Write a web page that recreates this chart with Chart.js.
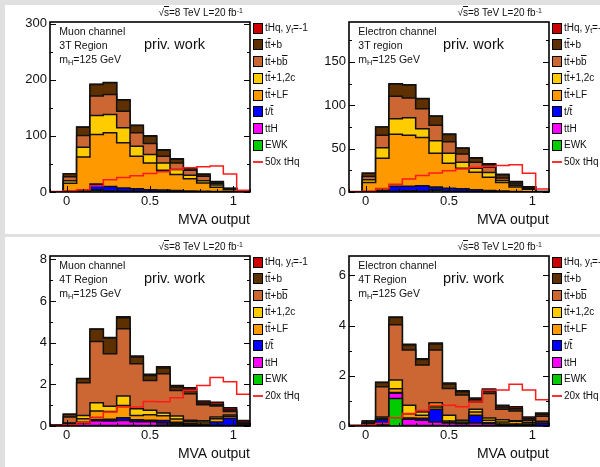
<!DOCTYPE html>
<html>
<head>
<meta charset="utf-8">
<script src="https://cdn.jsdelivr.net/npm/chart.js@4.4.0/dist/chart.umd.min.js"></script>
<style>
  body { margin: 0; width: 600px; height: 467px; background: #e0e0e0; position: relative; overflow: hidden;
         font-family: "Liberation Sans", Arial, sans-serif; }
  .sheet { position: absolute; background: #fff; }
  .panel { position: absolute; width: 300px; height: 233px; }
  .panel canvas { position: absolute; left: 0; top: 0; }
  .txt { position: absolute; white-space: nowrap; color: #111; line-height: 1; }
  .o { text-decoration: overline; }
  .sub { font-size: 70%; position: relative; top: 0.3em; }
  .sup { font-size: 70%; position: relative; top: -0.45em; }
  .box { position: absolute; width: 8px; height: 9px; border: 1px solid #000; }
  .lline { position: absolute; width: 10px; height: 2px; background: #ff3030; }
</style>
</head>
<body>
<div class="sheet" style="left:5px;top:5px;width:294px;height:229px"></div>
<div class="sheet" style="left:299px;top:5px;width:301px;height:229px"></div>
<div class="sheet" style="left:5px;top:237px;width:294px;height:230px"></div>
<div class="sheet" style="left:299px;top:237px;width:301px;height:230px"></div>

<script>
// =====================================================
// BINNING AND AXES
// =====================================================
const binEdges = [-0.1, -0.02, 0.06, 0.14, 0.22, 0.30, 0.38, 0.46, 0.54, 0.62, 0.70, 0.78, 0.86, 0.94, 1.02, 1.1];
const xTicks = [0, 0.5, 1];
const xTickLabels = ["0", "0.5", "1"];

// stack order from bottom to top
const compColors = ["#00cc00", "#ff00ff", "#0000ff", "#ff9900", "#ffcc00", "#cc6633", "#5e3000", "#cc0000"];

// =====================================================
// MUON CHANNEL, 3T REGION
// =====================================================
const mu3T_EWK = [0, 0.3, 0.5, 3, 1.5, 1, 1, 0.5, 0.5, 0.3, 0.2, 0.2, 0.1, 0, 0];
const mu3T_ttH = [0, 0.2, 0.3, 0.5, 0.5, 0.5, 0.5, 0.5, 0.3, 0.2, 0.2, 0.1, 0.1, 0.1, 0];
const mu3T_t   = [0, 0.8, 1.5, 10.8, 8, 5.5, 4.5, 3, 2.7, 2, 1.5, 1, 0.6, 0.4, 0];
const mu3T_LF  = [0.3, 14.2, 60.2, 88.2, 95.4, 80.6, 57.7, 47.8, 35.2, 28.5, 21.9, 14.7, 7.5, 3.5, 0.2];
const mu3T_cc  = [0, 4.7, 17.3, 33.9, 32.8, 26.8, 17.9, 14.9, 13.1, 9, 6, 4, 4.2, 1, 0.1];
const mu3T_bb  = [0, 7.2, 20.9, 34.6, 35.8, 29.6, 23.8, 19.7, 11.9, 11.8, 8.9, 8, 3, 0.5, 0.1];
const mu3T_b   = [0.2, 5.3, 14.9, 20.8, 20.8, 19.8, 13.1, 13.1, 10.8, 6.6, 3.3, 3, 2.5, 0.7, 0.2];
const mu3T_tHq = [0.02, 0.04, 0.08, 0.22, 0.44, 0.52, 0.58, 0.66, 0.72, 0.8, 0.86, 0.9, 0.93, 0.64, 0.06];
const mu3T_sig = [1, 2, 4, 11, 22, 26, 29, 33, 36, 40, 43, 45, 46.5, 32, 3];
const mu3T_yTicks = [0, 100, 200, 300];

// =====================================================
// ELECTRON CHANNEL, 3T REGION
// =====================================================
const el3T_EWK = [0, 0.1, 0.2, 0.3, 0.3, 0.5, 2, 0.5, 0.3, 0.2, 0.1, 0.1, 0, 0, 0];
const el3T_ttH = [0, 0.1, 0.3, 0.5, 1, 0.5, 0.5, 0.5, 0.5, 0.3, 0.2, 0.1, 0.1, 0, 0];
const el3T_t   = [0, 0.5, 1.5, 5.7, 5.2, 6.2, 3.2, 3.2, 3, 2.2, 1.5, 1, 0.5, 0.3, 0];
const el3T_LF  = [0.2, 10.3, 36.8, 60.1, 59, 55.6, 38.9, 28.9, 23.6, 20.1, 15.3, 9.8, 5.1, 3, 0.2];
const el3T_cc  = [0, 3.1, 12.2, 17.9, 20.2, 10.2, 14.4, 11.5, 6.9, 4.6, 5.4, 2.3, 1.9, 0.8, 0.1];
const el3T_bb  = [0, 3.8, 14.5, 25.9, 22.8, 23, 18, 13.3, 9.5, 6.9, 6.1, 2.7, 1.5, 0.8, 0.1];
const el3T_b   = [0.1, 3.8, 9.5, 14.1, 14.9, 11.4, 10.2, 8.4, 6.5, 4.5, 3.4, 3.8, 2.3, 0.8, 0.1];
const el3T_tHq = [0.01, 0.02, 0.08, 0.18, 0.3, 0.38, 0.44, 0.49, 0.53, 0.57, 0.59, 0.61, 0.63, 0.43, 0.07];
const el3T_sig = [0.5, 0.8, 4, 9, 15, 19, 22, 24.5, 26.5, 28.5, 29.5, 30.5, 31.5, 21.7, 3.4];
const el3T_yTicks = [0, 50, 100, 150];

// =====================================================
// MUON CHANNEL, 4T REGION
// =====================================================
const mu4T_EWK = [0, 0, 0.02, 0.02, 0.02, 0.02, 0.02, 0.03, 0.05, 0.06, 0.02, 0.01, 0, 0, 0];
const mu4T_ttH = [0, 0.05, 0.12, 0.23, 0.22, 0.25, 0.18, 0.17, 0.1, 0.06, 0.05, 0.05, 0.04, 0.02, 0];
const mu4T_t   = [0, 0.02, 0.04, 0.06, 0.08, 0.13, 0.1, 0.08, 0.12, 0.06, 0.05, 0.04, 0.15, 0.35, 0.05];
const mu4T_LF  = [0.02, 0.05, 0.17, 0.41, 0.38, 0.59, 0.2, 0.26, 0.22, 0.16, 0.08, 0.09, 0.16, 0.1, 0.04];
const mu4T_cc  = [0, 0.03, 0.15, 0.4, 0.25, 0.45, 0.33, 0.22, 0.14, 0.14, 0.08, 0.06, 0.08, 0.06, 0.02];
const mu4T_bb  = [0.01, 0.28, 1.58, 2.94, 2.52, 3.23, 2.16, 1.43, 1.88, 1.23, 1.27, 0.77, 0.53, 0.17, 0.02];
const mu4T_b   = [0.02, 0.13, 0.19, 0.58, 0.75, 0.53, 0.32, 0.24, 0.27, 0.16, 0.2, 0.08, 0.06, 0.07, 0.05];
const mu4T_tHq = [0, 0, 0.01, 0.02, 0.03, 0.05, 0.05, 0.06, 0.06, 0.07, 0.09, 0.1, 0.12, 0.11, 0.08];
const mu4T_sig = [0.02, 0.05, 0.16, 0.42, 0.67, 0.91, 0.91, 1.18, 1.16, 1.36, 1.72, 1.94, 2.33, 2.12, 1.53];
const mu4T_yTicks = [0, 2, 4, 6, 8];

// =====================================================
// ELECTRON CHANNEL, 4T REGION
// =====================================================
const el4T_EWK = [0, 0, 0.02, 1.1, 0.02, 0.02, 0.02, 0.02, 0.01, 0.02, 0.01, 0, 0, 0, 0];
const el4T_ttH = [0, 0.02, 0.05, 0.2, 0.25, 0.21, 0.14, 0.1, 0.08, 0.1, 0.08, 0.05, 0.04, 0.02, 0.02];
const el4T_t   = [0, 0.02, 0.18, 0.03, 0.05, 0.08, 0.51, 0.03, 0.03, 0.31, 0.04, 0.03, 0.04, 0.04, 0.1];
const el4T_LF  = [0.01, 0.03, 0.06, 0.15, 0.17, 0.12, 0.09, 0.05, 0.04, 0.13, 0.1, 0.08, 0.11, 0.06, 0.05];
const el4T_cc  = [0, 0.02, 0.05, 0.35, 0.34, 0.13, 0.17, 0.23, 0.07, 0.11, 0.09, 0.09, 0.02, 0.02, 0.02];
const el4T_bb  = [0, 0.04, 1.2, 2.2, 2.2, 1.87, 2.1, 1.06, 1.0, 0.29, 0.97, 0.42, 0.39, 0.09, 0.2];
const el4T_b   = [0.01, 0.07, 0.17, 0.29, 0.2, 0.22, 0.24, 0.18, 0.13, 0.11, 0.11, 0.09, 0.09, 0.06, 0.08];
const el4T_tHq = [0, 0, 0.01, 0.02, 0.03, 0.03, 0.04, 0.04, 0.04, 0.05, 0.07, 0.07, 0.08, 0.07, 0.05];
const el4T_sig = [0.02, 0.04, 0.1, 0.33, 0.5, 0.62, 0.83, 0.83, 0.77, 0.96, 1.42, 1.43, 1.66, 1.43, 1.05];
const el4T_yTicks = [0, 2, 4, 6];

// =====================================================
// LEGEND
// =====================================================
const legendLabels = [
  "tHq, y<span class='sub'>t</span>=-1",
  "t<span class='o'>t</span>+b",
  "t<span class='o'>t</span>+b<span class='o'>b</span>",
  "t<span class='o'>t</span>+1,2c",
  "t<span class='o'>t</span>+LF",
  "t/<span class='o'>t</span>",
  "ttH",
  "EWK"
];
const legendColors = ["#cc0000", "#5e3000", "#cc6633", "#ffcc00", "#ff9900", "#0000ff", "#ff00ff", "#00cc00"];

// =====================================================
// PANELS
// =====================================================
const panels = [
  { left: 0, top: 0, channel: "Muon channel", region: "3T Region", yMax: 303, yTicks: mu3T_yTicks, sigLabel: "50x tHq",
    stack: [mu3T_EWK, mu3T_ttH, mu3T_t, mu3T_LF, mu3T_cc, mu3T_bb, mu3T_b, mu3T_tHq], sig: mu3T_sig },
  { left: 299, top: 0, channel: "Electron channel", region: "3T region", yMax: 196, yTicks: el3T_yTicks, sigLabel: "50x tHq",
    stack: [el3T_EWK, el3T_ttH, el3T_t, el3T_LF, el3T_cc, el3T_bb, el3T_b, el3T_tHq], sig: el3T_sig },
  { left: 0, top: 234, channel: "Muon channel", region: "4T Region", yMax: 8.16, yTicks: mu4T_yTicks, sigLabel: "20x tHq",
    stack: [mu4T_EWK, mu4T_ttH, mu4T_t, mu4T_LF, mu4T_cc, mu4T_bb, mu4T_b, mu4T_tHq], sig: mu4T_sig },
  { left: 299, top: 234, channel: "Electron channel", region: "4T Region", yMax: 6.77, yTicks: el4T_yTicks, sigLabel: "20x tHq",
    stack: [el4T_EWK, el4T_ttH, el4T_t, el4T_LF, el4T_cc, el4T_bb, el4T_b, el4T_tHq], sig: el4T_sig }
];

// step points: one per low edge plus the last upper edge
function stepPoints(values) {
  return binEdges.map((x, i) => ({ x: x, y: values[Math.min(i, values.length - 1)] }));
}

// frame and inward ticks, ROOT style
const rootFrame = {
  id: "rootFrame",
  afterDraw(chart, args, opts) {
    const { ctx, chartArea: a, scales: { x, y } } = chart;
    const seg = (x1, y1, x2, y2) => { ctx.beginPath(); ctx.moveTo(x1, y1); ctx.lineTo(x2, y2); ctx.stroke(); };
    ctx.save();
    ctx.strokeStyle = "#000";
    ctx.lineWidth = 1;

    const step = opts.yTicks[1] - opts.yTicks[0];
    for (let v = 0; v <= y.max + 1e-9; v += step / 2) {
      const py = Math.round(y.getPixelForValue(v)) + 0.5;
      const major = opts.yTicks.some(t => Math.abs(t - v) < 1e-9);
      const len = major ? 6 : 3;
      seg(a.left, py, a.left + len, py);
      seg(a.right, py, a.right - len, py);
    }
    for (let i = 0; i <= 12; i++) {
      const v = -0.1 + i * 0.1;
      const px = Math.round(x.getPixelForValue(v)) + 0.5;
      const major = xTicks.some(t => Math.abs(t - v) < 1e-9);
      seg(px, a.bottom, px, a.bottom - (major ? 6 : 3));
    }

    ctx.lineWidth = 1.6;
    ctx.strokeRect(a.left, a.top, a.right - a.left, a.bottom - a.top);
    ctx.restore();
  }
};

function addText(parent, html, left, baseline, size) {
  const d = document.createElement("div");
  d.className = "txt";
  d.style.left = left + "px";
  d.style.top = (baseline - 0.8465 * size) + "px";
  d.style.fontSize = size + "px";
  d.innerHTML = html;
  parent.appendChild(d);
}

panels.forEach(p => {
  const div = document.createElement("div");
  div.className = "panel";
  div.style.left = p.left + "px";
  div.style.top = p.top + "px";
  document.body.appendChild(div);

  const canvas = document.createElement("canvas");
  canvas.width = 300;
  canvas.height = 233;
  div.appendChild(canvas);

  const datasets = p.stack.map((vals, i) => ({
    data: stepPoints(vals),
    backgroundColor: compColors[i],
    borderColor: "#111",
    borderWidth: 1.5,
    fill: i === 0 ? "origin" : "-1",
    stepped: "before",
    pointRadius: 0,
    order: 0
  }));
  datasets.push({
    data: stepPoints(p.sig),
    borderColor: "#ff1a1a",
    borderWidth: 1.5,
    fill: false,
    stepped: "before",
    pointRadius: 0,
    stack: "signal",
    order: -1
  });

  new Chart(canvas, {
    type: "line",
    data: { datasets: datasets },
    options: {
      responsive: false,
      animation: false,
      devicePixelRatio: 1,
      events: [],
      layout: { padding: { left: 0, right: 50, top: 22, bottom: 0 } },
      plugins: {
        legend: { display: false },
        tooltip: { enabled: false },
        rootFrame: { yTicks: p.yTicks }
      },
      scales: {
        x: {
          type: "linear",
          min: -0.1,
          max: 1.1,
          grid: { display: false, drawTicks: false },
          border: { display: false },
          afterBuildTicks: s => { s.ticks = xTicks.map(v => ({ value: v })); },
          afterFit: s => { s.height = 41; },
          ticks: {
            padding: 2,
            autoSkip: false,
            maxRotation: 0,
            color: "#111",
            font: { family: "Liberation Sans", size: 13 },
            callback: (v, i) => xTickLabels[i]
          },
          title: {
            display: true,
            text: "MVA output",
            align: "end",
            color: "#111",
            font: { family: "Liberation Sans", size: 14 },
            padding: { top: 0, bottom: 4 }
          }
        },
        y: {
          stacked: true,
          min: 0,
          max: p.yMax,
          grid: { display: false, drawTicks: false },
          border: { display: false },
          afterBuildTicks: s => { s.ticks = p.yTicks.map(v => ({ value: v })); },
          afterFit: s => { s.width = 50; },
          ticks: {
            padding: 3,
            color: "#111",
            font: { family: "Liberation Sans", size: 13 },
            callback: v => String(v)
          }
        }
      }
    },
    plugins: [rootFrame]
  });

  // texts
  addText(div, "√<span class='o'>s</span>=8 TeV L=20 fb<span class='sup'>-1</span>", 158.5, 16.7, 10);
  addText(div, p.channel, 59.3, 35.3, 10.5);
  addText(div, p.region, 59.3, 49, 10.5);
  addText(div, "m<span class='sub'>H</span>=125 GeV", 59.3, 62.7, 10.5);
  addText(div, "priv. work", 144, 49, 14.5);

  // legend
  legendLabels.forEach((lab, k) => {
    const cy = 28 + k * 16.75;
    const b = document.createElement("div");
    b.className = "box";
    b.style.left = "253px";
    b.style.top = (cy - 5.5) + "px";
    b.style.background = legendColors[k];
    div.appendChild(b);
    addText(div, lab, 265, cy + 3.5, 10);
  });
  const cy = 28 + 8 * 16.75;
  const l = document.createElement("div");
  l.className = "lline";
  l.style.left = "253px";
  l.style.top = (cy - 1) + "px";
  div.appendChild(l);
  addText(div, p.sigLabel, 265, cy + 3.5, 10);
});
</script>
</body>
</html>
